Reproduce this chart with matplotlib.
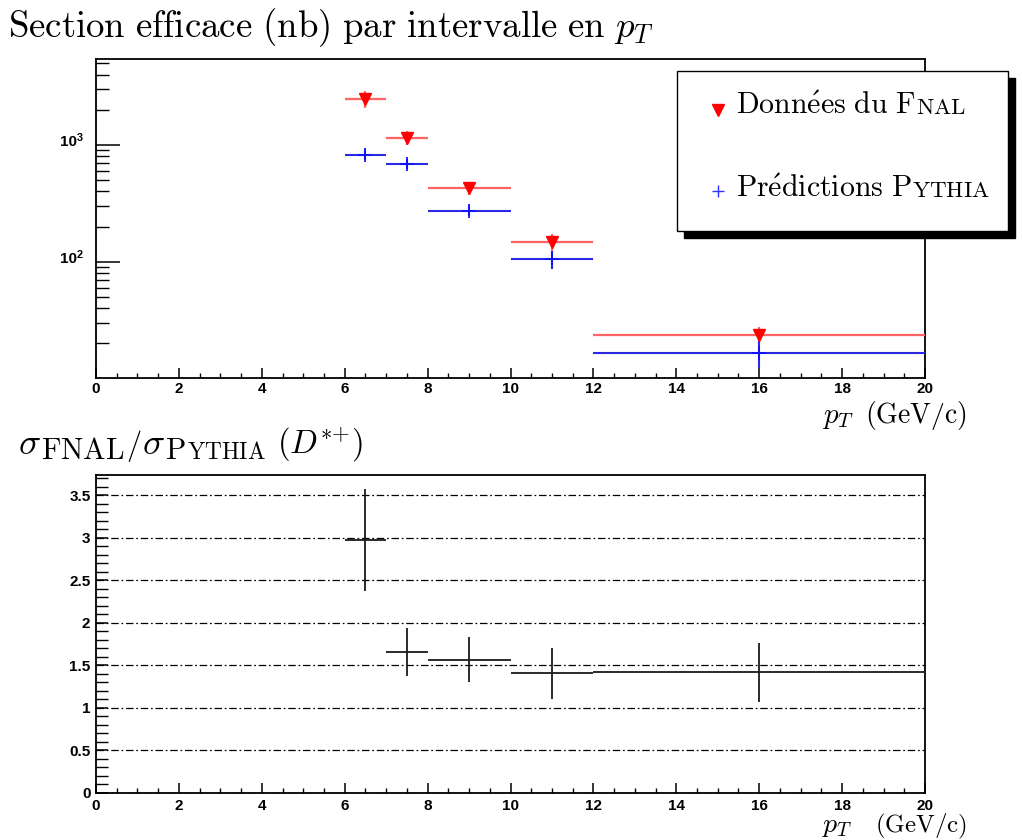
import matplotlib
matplotlib.use("Agg")
import matplotlib.pyplot as plt
from matplotlib.lines import Line2D
from matplotlib.patches import Rectangle
from matplotlib.font_manager import FontProperties
from matplotlib.ticker import FixedLocator, MultipleLocator, NullFormatter, LogLocator, FixedFormatter

plt.rcParams["mathtext.fontset"] = "cm"

W, H = 1022, 840

# pT bins (GeV/c)
bin_lo = [6, 7, 8, 10, 12]
bin_hi = [7, 8, 10, 12, 20]
pt_center = [6.5, 7.5, 9, 11, 16]

# cross sections per pT bin (nb)
fnal_xsec = [2480, 1155, 430, 148, 23.7]
fnal_err = [400, 165, 55, 25, 4.0]
pythia_xsec = [821, 692, 272, 105, 16.6]
pythia_err = [85, 72, 28, 18, 4.3]

# FNAL / PYTHIA ratio
ratio = [2.97, 1.66, 1.57, 1.41, 1.42]
ratio_err = [0.60, 0.28, 0.27, 0.30, 0.35]

x_ticks = [0, 2, 4, 6, 8, 10, 12, 14, 16, 18, 20]
log_ticks = [100, 1000]
log_tick_base = ["10", "10"]
log_tick_exp = ["2", "3"]
ratio_ticks = [0, 0.5, 1, 1.5, 2, 2.5, 3, 3.5]
ratio_tick_labels = ["0", "0.5", "1", "1.5", "2", "2.5", "3", "3.5"]

xerr = [[c - lo for c, lo in zip(pt_center, bin_lo)],
        [hi - c for c, hi in zip(pt_center, bin_hi)]]

fig = plt.figure(figsize=(W / 100, H / 100), dpi=100)


def frac(x, y):
    return x / W, 1 - y / H


TICK_FONT = dict(family="Liberation Sans", weight="bold", size=11)


def style_axes(ax, ylen_major, ylen_minor):
    for s in ax.spines.values():
        s.set_linewidth(1.3)
        s.set_color("black")
    ax.set_xlim(0, 20)
    ax.xaxis.set_major_locator(FixedLocator(x_ticks))
    ax.xaxis.set_major_formatter(FixedFormatter([str(t) for t in x_ticks]))
    ax.xaxis.set_minor_locator(MultipleLocator(0.5))
    ax.tick_params(which="both", direction="in", top=False, right=False, color="black")
    ax.tick_params(axis="x", which="major", length=7.5, width=1.1, pad=3)
    ax.tick_params(axis="x", which="minor", length=3.8, width=1.0)
    ax.tick_params(axis="y", which="major", length=ylen_major, width=1.1)
    ax.tick_params(axis="y", which="minor", length=ylen_minor, width=1.0)
    for lab in ax.get_xticklabels() + ax.get_yticklabels():
        lab.set_fontproperties(FontProperties(**TICK_FONT))


# ---------- upper panel: cross sections ----------
ax1 = fig.add_axes([96 / W, 1 - 378 / H, 829 / W, 319 / H])
ax1.set_yscale("log")
ax1.set_ylim(10.08, 5450)
ax1.yaxis.set_major_locator(FixedLocator(log_ticks))
ax1.yaxis.set_major_formatter(NullFormatter())
ax1.yaxis.set_minor_locator(LogLocator(base=10, subs=[2, 3, 4, 5, 6, 7, 8, 9], numticks=20))
ax1.yaxis.set_minor_formatter(NullFormatter())
style_axes(ax1, 17.5, 9.2)

# decade labels: "10" with a raised exponent
for v, b, e in zip(log_ticks, log_tick_base, log_tick_exp):
    ax1.annotate(b, xy=(0, v), xycoords=ax1.get_yaxis_transform(),
                 xytext=(-13.6, 1.8), textcoords="offset points",
                 ha="right", va="center", fontproperties=FontProperties(**TICK_FONT))
    ax1.annotate(e, xy=(0, v), xycoords=ax1.get_yaxis_transform(),
                 xytext=(-13.8, 4.9), textcoords="offset points",
                 ha="left", va="center",
                 fontproperties=FontProperties(family="Liberation Sans", weight="bold", size=7.8))

ax1.errorbar(pt_center, fnal_xsec, xerr=xerr, yerr=fnal_err, fmt="v",
             color="#ff5c5c", ecolor="#ff6464", elinewidth=1.6, capsize=0,
             mfc="#ff0000", mec="#ff0000", ms=9, zorder=3)
ax1.errorbar(pt_center, pythia_xsec, xerr=xerr, yerr=pythia_err, fmt="+",
             color="#2424d8", ecolor="#2a2ae0", elinewidth=1.5, capsize=0,
             mec="#1010ff", ms=10, mew=1.3, zorder=3)

# ---------- lower panel: ratio ----------
ax2 = fig.add_axes([96 / W, 1 - 793 / H, 829 / W, 318 / H])
ax2.set_ylim(0, 3.74)
ax2.yaxis.set_major_locator(FixedLocator(ratio_ticks))
ax2.yaxis.set_major_formatter(FixedFormatter(ratio_tick_labels))
ax2.yaxis.set_minor_locator(MultipleLocator(0.1))
style_axes(ax2, 8.6, 8.6)
ax2.tick_params(axis="y", which="major", pad=4)
ax2.tick_params(axis="x", which="major", pad=4)
ax2.grid(axis="y", which="major", color="black", linewidth=0.9,
         linestyle=(0, (6, 2.2, 1.4, 2.2)))
ax2.errorbar(pt_center, ratio, xerr=xerr, yerr=ratio_err, fmt="none",
             ecolor="#1a1a1a", elinewidth=1.3, capsize=0, zorder=3)

# ---------- legend box with drop shadow ----------
lx0, ly0, lx1, ly1 = 677, 71, 1008, 231
sh = 7
fig.add_artist(Rectangle(frac(lx0 + sh, ly1 + sh), (lx1 - lx0) / W, (ly1 - ly0) / H,
                         transform=fig.transFigure, facecolor="black",
                         edgecolor="black", zorder=5))
fig.add_artist(Rectangle(frac(lx0, ly1), (lx1 - lx0) / W, (ly1 - ly0) / H,
                         transform=fig.transFigure, facecolor="white",
                         edgecolor="black", linewidth=1.0, zorder=6))
fig.add_artist(Line2D([717.5 / W], [1 - 110 / H], marker="v", color="#ff0000",
                      ms=8, transform=fig.transFigure, zorder=7))
fig.add_artist(Line2D([717.5 / W], [1 - 191 / H], marker="+", color="#3030ff",
                      ms=9, mew=1.0, transform=fig.transFigure, zorder=7))

renderer = fig.canvas.get_renderer()


def draw_runs(x_px, y_px, runs, zorder=8):
    """Lay out text pieces left to right on a common baseline (pixel coords from top-left)."""
    x = x_px
    for text, size, dy, gap in runs:
        fx, fy = frac(x, y_px + dy)
        t = fig.text(fx, fy, text, fontsize=size, ha="left", va="baseline", zorder=zorder)
        x += t.get_window_extent(renderer).width + gap


LEG = 21.5
draw_runs(736, 114, [(r"$\mathrm{Donn\acute{e}es\ du\ F}$", LEG, 0, 0.5),
                     (r"$\mathrm{NAL}$", LEG * 0.77, 0, 0)])
draw_runs(736, 197, [(r"$\mathrm{Pr\acute{e}dictions\ P}$", LEG, 0, 0.5),
                     (r"$\mathrm{YTHIA}$", LEG * 0.77, 0, 0)])

# ---------- titles and axis captions ----------
draw_runs(8, 37, [(r"$\mathrm{Section\ efficace\ (nb)\ par\ intervalle\ en\ }p_T$", 26.5, 0, 0)])

draw_runs(18, 454, [(r"$\sigma$", 26.5, 0, 0.5),
                    (r"$\mathrm{FNAL}$", 21.5, 5, 1),
                    (r"$/$", 22, 0, 0.5),
                    (r"$\sigma$", 26.5, 0, 0.5),
                    (r"$\mathrm{P}$", 21.5, 5, 0.5),
                    (r"$\mathrm{YTHIA}$", 21.5 * 0.78, 5, 12),
                    (r"$(D^{{*}{+}})$", 23.5, 0, 0)])

for yb, sz, psz in ((423, 20, 21), (832, 18, 20)):
    draw_runs(822, yb, [(r"$p_T$", psz, 0, 0)])
    fx, fy = frac(967, yb)
    fig.text(fx, fy, r"$\mathrm{(GeV/c)}$", fontsize=sz, ha="right", va="baseline")

fig.savefig("out.png", dpi=100)
